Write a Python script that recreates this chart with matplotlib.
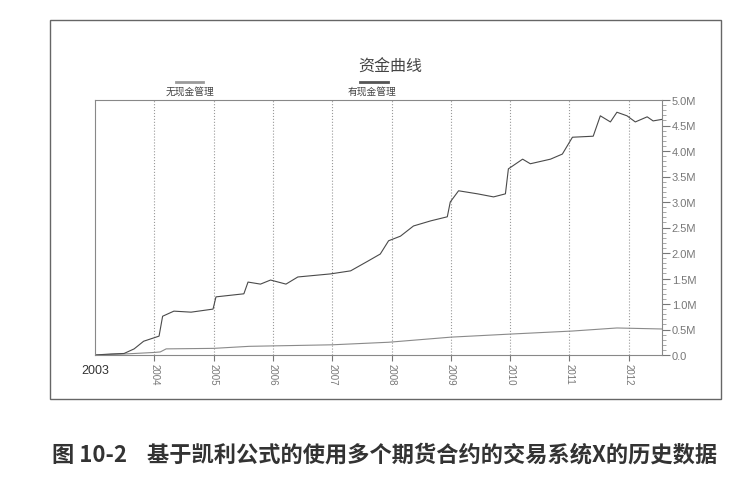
import matplotlib
matplotlib.use("Agg")
import matplotlib.pyplot as plt
from matplotlib.patches import Rectangle
from matplotlib.lines import Line2D
from matplotlib.ticker import MultipleLocator, FuncFormatter

plt.rcParams['font.family'] = ['Noto Sans CJK SC', 'DejaVu Sans']

# Equity with cash management (decimal year, $M)
with_mm_x = [2003.0, 2003.27, 2003.49, 2003.66, 2003.82, 2004.08, 2004.14, 2004.33, 2004.62,
             2004.99, 2005.04, 2005.51, 2005.58, 2005.79, 2005.96, 2006.22, 2006.42, 2006.97,
             2007.31, 2007.60, 2007.81, 2007.95, 2008.15, 2008.37, 2008.66, 2008.94, 2008.99,
             2009.13, 2009.45, 2009.72, 2009.92, 2009.97, 2010.21, 2010.34, 2010.68, 2010.88,
             2011.05, 2011.40, 2011.52, 2011.69, 2011.80, 2011.97, 2012.11, 2012.31, 2012.41,
             2012.56]
with_mm_y = [0.0, 0.02, 0.03, 0.12, 0.27, 0.37, 0.76, 0.86, 0.84,
             0.90, 1.14, 1.20, 1.43, 1.39, 1.47, 1.39, 1.53, 1.59,
             1.65, 1.84, 1.98, 2.24, 2.33, 2.53, 2.63, 2.71, 3.00,
             3.22, 3.16, 3.10, 3.16, 3.65, 3.84, 3.75, 3.84, 3.94,
             4.27, 4.29, 4.69, 4.57, 4.76, 4.69, 4.57, 4.67, 4.59,
             4.62]

# Equity without cash management
no_mm_x = [2003.0, 2003.5, 2004.0, 2004.1, 2004.2, 2005.0, 2005.6, 2007.0, 2007.95,
           2009.0, 2010.0, 2011.05, 2011.8, 2012.56]
no_mm_y = [0.0, 0.02, 0.05, 0.06, 0.12, 0.13, 0.17, 0.20, 0.25,
           0.35, 0.41, 0.47, 0.53, 0.51]

years = list(range(2004, 2013))

fig = plt.figure(figsize=(7.51, 5.02), dpi=100)
fig.patch.set_facecolor('white')

# outer frame
fig.add_artist(Rectangle((50 / 751, 1 - 400 / 502), 671 / 751, 379 / 502,
                         transform=fig.transFigure, fill=False, edgecolor='#666666', lw=1.0))

ax = fig.add_axes([95 / 751, 1 - 356 / 502, 567 / 751, 255 / 502])
ax.plot(no_mm_x, no_mm_y, color='#8a8a8a', lw=0.8)
ax.plot(with_mm_x, with_mm_y, color='#4a4a4a', lw=0.8)

ax.set_xlim(2003.0, 2012.56)
ax.set_ylim(0, 5.0)

ax.yaxis.tick_right()
ax.yaxis.set_major_locator(MultipleLocator(0.5))
ax.yaxis.set_minor_locator(MultipleLocator(0.1))
ax.yaxis.set_major_formatter(FuncFormatter(lambda v, p: '0.0' if v == 0 else f'{v:.1f}M'))
ax.tick_params(axis='y', which='major', length=6, color='#777777', labelsize=8,
               labelcolor='#777777', pad=1)
ax.tick_params(axis='y', which='minor', length=3, color='#999999')
for lbl in ax.get_yticklabels():
    lbl.set_family(['Liberation Sans', 'DejaVu Sans'])

ax.set_xticks(years)
ax.set_xticklabels([str(y) for y in years], rotation=270, fontsize=7,
                   color='#777777', family=['Liberation Sans', 'DejaVu Sans'])
ax.tick_params(axis='x', length=4, color='#777777', pad=2)
ax.text(2003.0, -0.035, '2003', transform=ax.get_xaxis_transform(), ha='center', va='top',
        fontsize=9, color='#333333', family=['Liberation Sans', 'DejaVu Sans'])

ax.grid(axis='x', linestyle=':', color='#999999', lw=0.8)
for s in ax.spines.values():
    s.set_color('#888888')
    s.set_linewidth(0.8)

# title and legend
fig.text(390 / 751, 1 - 67 / 502, '资金曲线', ha='center', va='center', fontsize=11.5, color='#444444')
fig.text(190 / 751, 1 - 92 / 502, '无现金管理', ha='center', va='center', fontsize=7, color='#444444')
fig.text(372 / 751, 1 - 92 / 502, '有现金管理', ha='center', va='center', fontsize=7, color='#444444')
fig.add_artist(Line2D([176 / 751, 203 / 751], [1 - 83 / 502, 1 - 83 / 502],
                      transform=fig.transFigure, color='#9a9a9a', lw=2))
fig.add_artist(Line2D([360 / 751, 388 / 751], [1 - 83 / 502, 1 - 83 / 502],
                      transform=fig.transFigure, color='#555555', lw=2))

# caption
fig.text(52 / 751, 1 - 455 / 502, '图 10-2    基于凯利公式的使用多个期货合约的交易系统X的历史数据',
         ha='left', va='center', fontsize=16, fontweight='bold', color='#333333')

fig.savefig('out.png', dpi=100)
